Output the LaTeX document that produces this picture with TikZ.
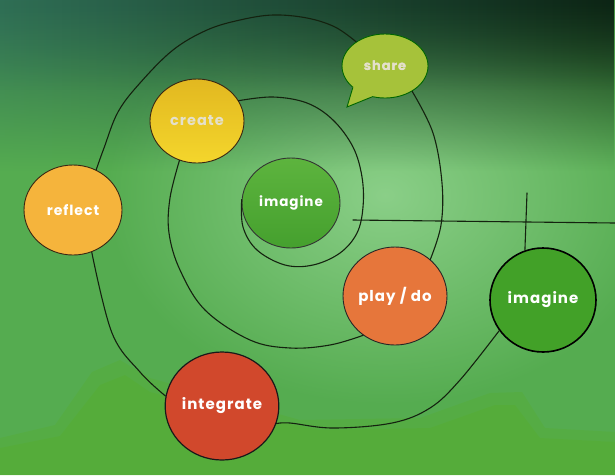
\documentclass[tikz,border=0pt]{standalone}
\usepackage{fontspec}
\newfontfamily\lab{Poppins}[LetterSpace=7]
\usetikzlibrary{shapes.geometric,fadings}
\definecolor{bgmid}{HTML}{55AC50}
\definecolor{glowc}{HTML}{98D896}
\definecolor{topL}{HTML}{2F6E55}
\definecolor{topR}{HTML}{0C2414}
\definecolor{bandc}{HTML}{56AC2A}
\definecolor{lineC}{HTML}{14220F}
\definecolor{createT}{HTML}{E2B820}\definecolor{createB}{HTML}{F4D62C}
\definecolor{shareC}{HTML}{A6C23A}
\definecolor{reflC}{HTML}{F5B43C}
\definecolor{imCT}{HTML}{5DB43E}\definecolor{imCB}{HTML}{45A02E}
\definecolor{playC}{HTML}{E6763B}
\definecolor{imRC}{HTML}{42A128}
\definecolor{integC}{HTML}{D1482C}
\definecolor{paleT}{HTML}{E4E0CC}
\tikzfading[name=fadedown, top color=transparent!0, bottom color=transparent!100]
\tikzfading[name=fadeup, top color=transparent!100, bottom color=transparent!0]
\tikzfading[name=radfade, inner color=transparent!0, outer color=transparent!100]
\tikzset{
  disc/.style={ellipse, inner sep=0pt, line width=0.9pt, text=white},
  spiral/.style={draw=lineC, line width=1.1pt, line cap=round},
  lbl/.style={font=\lab\bfseries\fontsize{#1}{#1}\selectfont}
}
\begin{document}
\begin{tikzpicture}[x=1pt,y=-1pt]
\useasboundingbox (0,0) rectangle (615,475);
% background
\fill[bgmid] (0,0) rectangle (615,475);
\fill[glowc, path fading=radfade, opacity=0.8] (385,195) ellipse (280 and 210);
\fill[bandc, opacity=0.3] (0,438) -- (55,425) -- (92,372) -- (120,360) -- (150,378) -- (200,392) -- (300,420) -- (420,418) -- (490,393) -- (522,392) -- (545,428) -- (615,432) -- (615,475) -- (0,475) -- cycle;
\fill[bandc, opacity=0.35] (0,448) -- (60,436) -- (100,385) -- (125,375) -- (150,392) -- (220,410) -- (320,430) -- (430,428) -- (495,405) -- (515,405) -- (540,438) -- (615,442) -- (615,475) -- (0,475) -- cycle;
\shade[left color=topL, right color=topR, path fading=fadedown] (0,0) rectangle (615,170);
\shade[left color=topL, right color=topR, path fading=fadedown, opacity=0.6] (0,0) rectangle (615,90);
% nodes
\node[disc, minimum width=94pt, minimum height=84pt, top color=createT, bottom color=createB, draw=black!70!brown, text=paleT, lbl=14.5] (create) at (197,121) {create};
\node[disc, minimum width=86pt, minimum height=64pt, fill=shareC, draw=black!60!green, text=paleT, lbl=13] (share) at (385,66) {share};
\node[disc, minimum width=98pt, minimum height=90pt, fill=reflC, draw=black!70!brown, lbl=14] (refl) at (73,210) {reflect};
\node[disc, minimum width=98pt, minimum height=90pt, top color=imCT, bottom color=imCB, draw=black!80, lbl=13.5] (imC) at (291,203) {imagine};
\node[disc, minimum width=104pt, minimum height=98pt, fill=playC, draw=black!85, lbl=15] (play) at (395,296) {play / do};
\node[disc, minimum width=106pt, minimum height=104pt, fill=imRC, draw=black, line width=1.6pt, lbl=15] (imR) at (543,300) {imagine};
\node[disc, minimum width=108pt, minimum height=108pt, fill=integC, draw=black!90, line width=1.2pt, lbl=15] (integ) at (222,406) {integrate};
% speech bubble tail
\fill[shareC] (share.214) -- (347,107) -- (share.247) -- (share.center) -- cycle;
\draw[black!60!green, line width=0.9pt] (share.214) -- (347,107) -- (share.247);
\node[text=paleT, lbl=13] at (share.center) {share};
% spiral
\coordinate (vtop) at (527,193);
\coordinate (hL) at (353,220);
\coordinate (hR) at (615,223);
\draw[spiral] (vtop) -- (imR.110);
\draw[spiral] plot[smooth, tension=0.6] coordinates {(imR.215) (460,380) (430,408) (392,423) (333,428) (290,423) (integ.342)};
\draw[spiral] plot[smooth, tension=0.6] coordinates {(integ.170) (140,372) (112,333) (refl.294)};
\draw[spiral] plot[smooth, tension=0.6] coordinates {(refl.60) (104,148) (118,112) (140,83) (173,50) (207,30) (240,20) (273,15) (307,18) (335,27) (share.140)};
\draw[spiral] plot[smooth, tension=0.6] coordinates {(share.317) (433,133) (442,183) (441,225) (play.46)};
\draw[spiral] plot[smooth, tension=0.6] coordinates {(play.231) (330,345) (290,348) (250,340) (205,310) (180,270) (169,233) (170,198) (create.246)};
\draw[spiral] plot[smooth, tension=0.6] coordinates {(create.26) (273,97) (307,103) (333,120) (353,147) (362,177) (363,207) (357,233) (340,253) (313,265) (285,265) (257,250) (243,227) (imC.176)};
\draw[spiral] (hL) -- (hR);
\end{tikzpicture}
\end{document}
